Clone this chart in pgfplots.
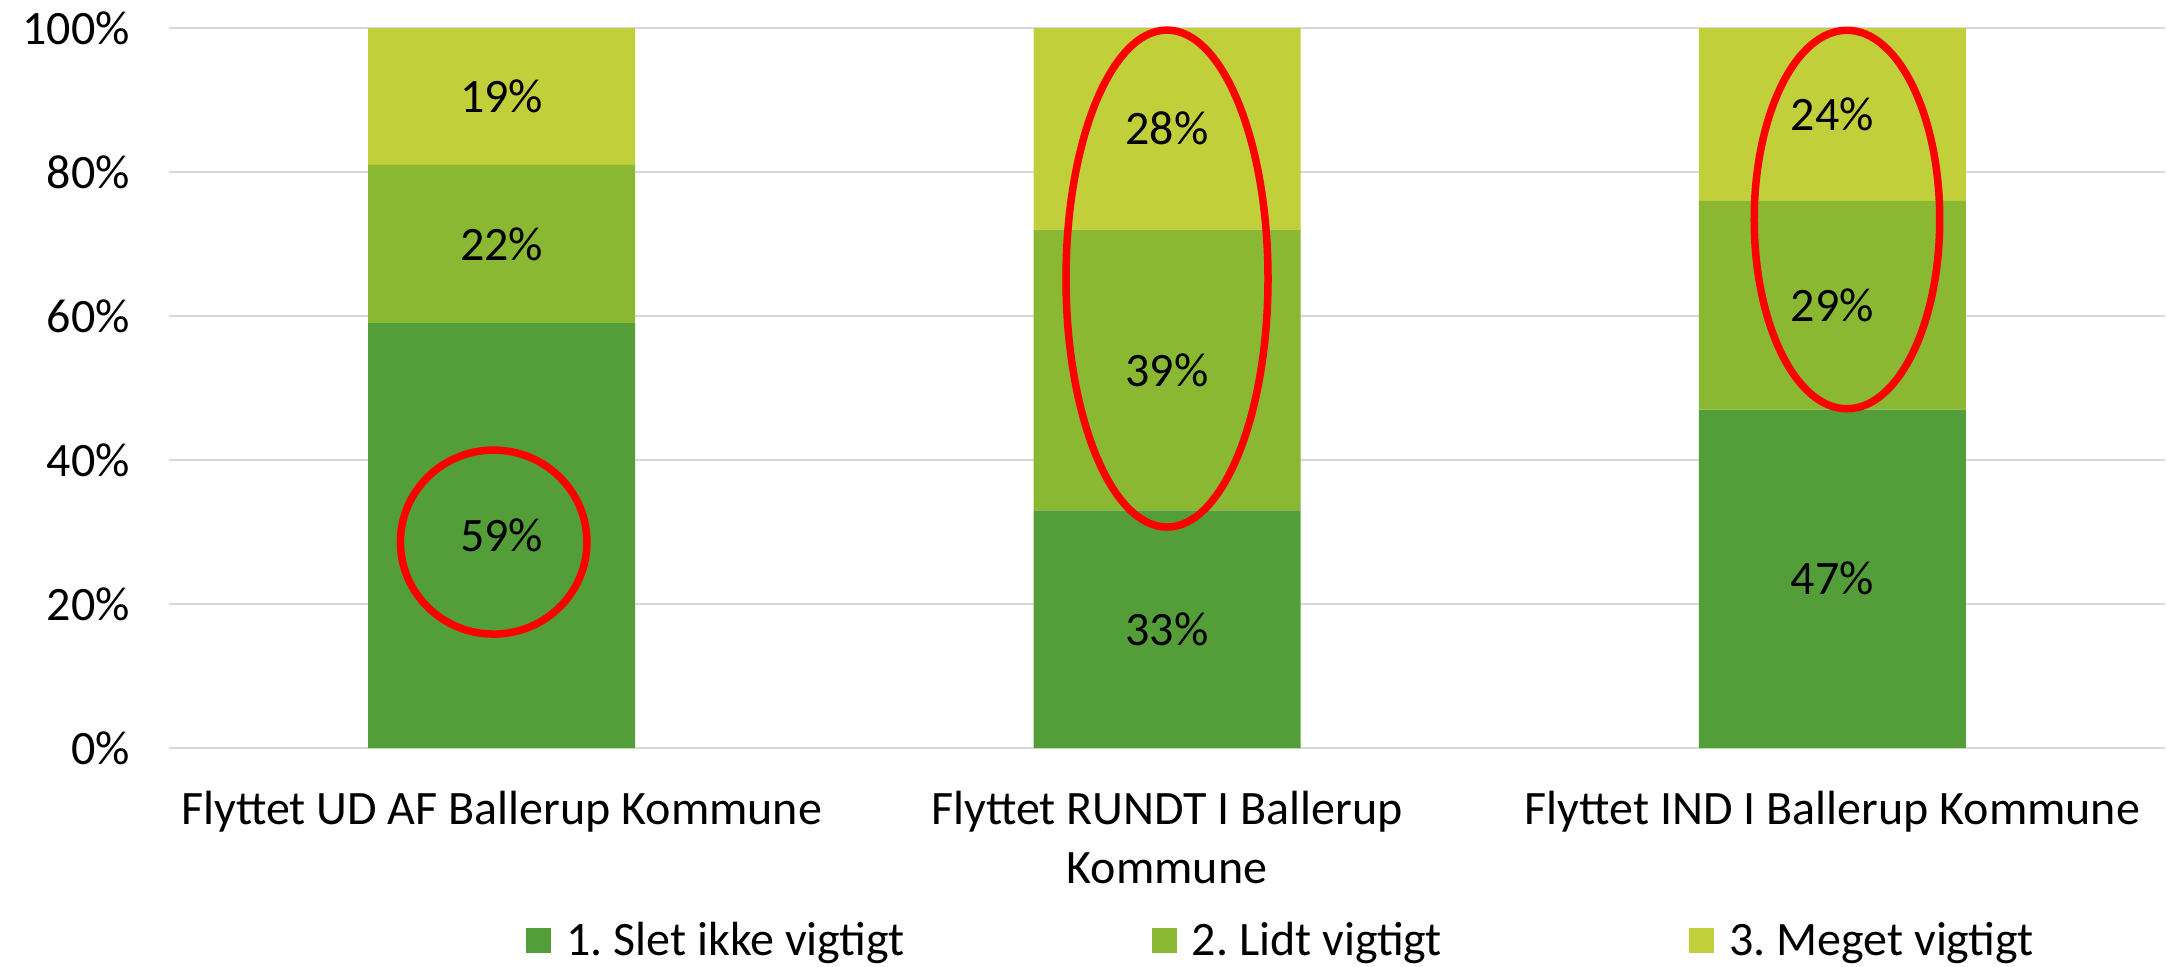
\documentclass[border=0pt]{standalone}
\usepackage{fontspec}
\setmainfont{Carlito}
\usepackage{pgfplots}
\pgfplotsset{compat=1.18}
\definecolor{gA}{HTML}{549E39}
\definecolor{gB}{HTML}{8AB833}
\definecolor{gC}{HTML}{C0CF3A}
\definecolor{gridc}{HTML}{D9D9D9}
\newcommand\cf{\fontsize{19.2pt}{23.6pt}\selectfont}
\frenchspacing
\begin{document}
\begin{tikzpicture}
\useasboundingbox (-67.6pt,-87.2pt) rectangle (799.2pt,299.2pt);
\pgfplotsset{common/.style={
  at={(0,0)}, anchor=south west,
  scale only axis,
  width=798.4pt, height=288pt,
  xmin=-0.5, xmax=2.5,
  ymin=0, ymax=100,
  clip=false}}
\begin{axis}[
  common,
  ybar stacked,
  bar width=106.8pt,
  xtick={0,1,2},
  xticklabels={Flyttet UD AF Ballerup Kommune, {Flyttet RUNDT I Ballerup\\Kommune}, Flyttet IND I Ballerup Kommune},
  xticklabel style={font=\cf, align=center, anchor=north, yshift=-13.9pt},
  ytick={0,20,40,60,80,100},
  yticklabels={0\%,20\%,40\%,60\%,80\%,100\%},
  yticklabel style={font=\cf, anchor=east, xshift=-12.1pt},
  ymajorgrids,
  major grid style={draw=gridc, line width=0.8pt},
  axis line style={draw=none},
  major tick length=0pt,
  legend columns=3,
  legend style={draw=none, fill=none, at={(0.5566,0)}, yshift=-77pt, anchor=center, font=\cf,
     /tikz/every even column/.append style={column sep=99pt},
     /tikz/every odd column/.append style={column sep=6pt},
     nodes={inner sep=0pt}},
]
\addplot[fill=gA, draw=none, legend image code/.code={\fill[gA] (0pt,-5pt) rectangle (10pt,5pt);}] coordinates {(0,59) (1,33) (2,47)};
\addplot[fill=gB, draw=none, legend image code/.code={\fill[gB] (0pt,-5pt) rectangle (10pt,5pt);}] coordinates {(0,22) (1,39) (2,29)};
\addplot[fill=gC, draw=none, legend image code/.code={\fill[gC] (0pt,-5pt) rectangle (10pt,5pt);}] coordinates {(0,19) (1,28) (2,24)};
\legend{1. Slet ikke vigtigt, 2. Lidt vigtigt, 3. Meget vigtigt}
\end{axis}
\begin{axis}[common, hide axis]
\addplot[draw=none, mark=none, nodes near coords, point meta=explicit symbolic,
  nodes near coords style={font=\cf, anchor=center, inner sep=0pt, text=black}]
  coordinates {(0,29.5) [59\%] (1,16.5) [33\%] (2,23.5) [47\%]
               (0,70) [22\%] (1,52.5) [39\%] (2,61.5) [29\%]
               (0,90.5) [19\%] (1,86) [28\%] (2,88) [24\%]};
\coordinate (e1) at (axis cs:-0.012,28.6);
\coordinate (e2) at (axis cs:1.0,65.2);
\coordinate (e3) at (axis cs:2.022,73.4);
\end{axis}
\draw[red, line width=3pt] (e1) ellipse [x radius=37.3pt, y radius=36.8pt];
\draw[red, line width=3pt] (e2) ellipse [x radius=40.4pt, y radius=99.4pt];
\draw[red, line width=3pt] (e3) ellipse [x radius=37.1pt, y radius=75.7pt];
\end{tikzpicture}
\end{document}
